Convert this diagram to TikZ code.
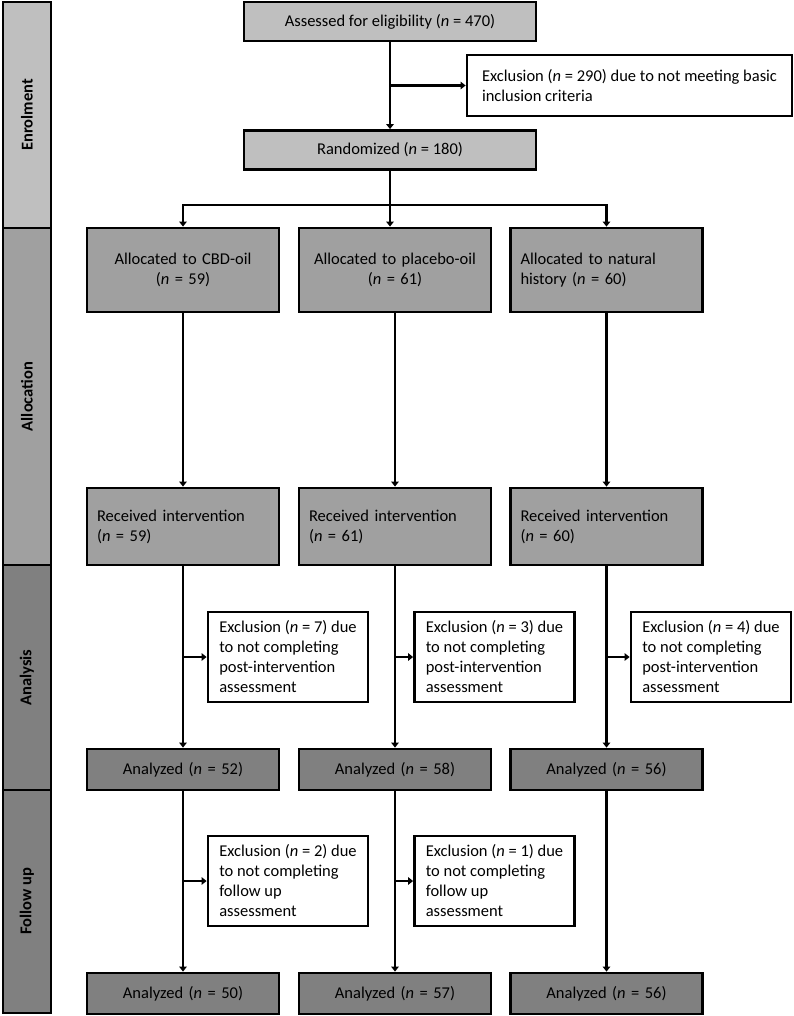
\documentclass[tikz,border=0pt]{standalone}
\usepackage{fontspec}
\setmainfont{Carlito}
\usetikzlibrary{arrows.meta}
\definecolor{enrolgray}{HTML}{BFBFBF}
\definecolor{allocgray}{HTML}{A0A0A0}
\definecolor{anagray}{HTML}{808080}

\begin{document}
\begin{tikzpicture}[
    x=1pt, y=-1pt,
    every node/.style={draw, line width=2.8pt, inner sep=0pt, font=\fontsize{16.5}{20}\selectfont},
    phase/.style={rotate=90, minimum height=48pt, font=\fontsize{16.5}{20}\selectfont\bfseries},
    topbox/.style={fill=enrolgray, minimum width=292pt, minimum height=39pt},
    stage/.style={minimum width=192pt, text width=172pt, align=center},
    exbox/.style={fill=white, minimum width=160pt, minimum height=90pt, align=left},
    flow/.style={draw, line width=2.5pt, -{Triangle[length=5pt,width=7.5pt]}}
  ]
    \useasboundingbox (0,0) rectangle (793,1016);
    % phases
    \node[phase, fill=enrolgray, minimum width=226pt] (enrol) at (27,115) {Enrolment};
    \node[phase, fill=allocgray, minimum width=337pt] (alloc) at (27,396.5) {Allocation};
    \node[phase, fill=anagray, minimum width=225pt] (anal) at (27,677.5) {Analysis};
    \node[phase, fill=anagray, minimum width=223pt] (follow) at (27,901.5) {Follow up};
    % enrolment
    \node[topbox] (assess) at (390,21.5) {Assessed for eligibility (\textit{n} = 470)};
    \node[exbox, minimum width=325pt, minimum height=61pt] (exE) at (629.5,85.5)
      {Exclusion (\textit{n} = 290) due to not meeting basic\\inclusion criteria};
    \node[topbox] (rand) at (390,150) {Randomized (\textit{n} = 180)};
    % allocation
    \node[stage, fill=allocgray, minimum height=84pt] (allocA) at (183,270) {Allocated to CBD-oil\\(\textit{n} = 59)};
    \node[stage, fill=allocgray, minimum height=84pt] (allocB) at (395,270) {Allocated to placebo-oil\\(\textit{n} = 61)};
    \node[stage, fill=allocgray, minimum height=84pt, align=left] (allocC) at (606.5,270) {Allocated to natural\\history (\textit{n} = 60)};
    \node[stage, fill=allocgray, minimum height=77pt, align=left] (recvA) at (183,526.5) {Received intervention\\(\textit{n} = 59)};
    \node[stage, fill=allocgray, minimum height=77pt, align=left] (recvB) at (395,526.5) {Received intervention\\(\textit{n} = 61)};
    \node[stage, fill=allocgray, minimum height=77pt, align=left] (recvC) at (606.5,526.5) {Received intervention\\(\textit{n} = 60)};
    % analysis
    \node[exbox] (exA1) at (288,657) {Exclusion (\textit{n} = 7) due\\to not completing\\post-intervention\\assessment};
    \node[exbox] (exB1) at (494.5,657) {Exclusion (\textit{n} = 3) due\\to not completing\\post-intervention\\assessment};
    \node[exbox] (exC1) at (711,657) {Exclusion (\textit{n} = 4) due\\to not completing\\post-intervention\\assessment};
    \node[stage, fill=anagray, minimum height=41pt] (anaA) at (183,769.5) {Analyzed (\textit{n} = 52)};
    \node[stage, fill=anagray, minimum height=41pt] (anaB) at (395,769.5) {Analyzed (\textit{n} = 58)};
    \node[stage, fill=anagray, minimum height=41pt] (anaC) at (606.5,769.5) {Analyzed (\textit{n} = 56)};
    % follow up
    \node[exbox] (exA2) at (288,881) {Exclusion (\textit{n} = 2) due\\to not completing\\follow up\\assessment};
    \node[exbox] (exB2) at (494.5,881) {Exclusion (\textit{n} = 1) due\\to not completing\\follow up\\assessment};
    \node[stage, fill=anagray, minimum height=41pt] (finA) at (183,993.5) {Analyzed (\textit{n} = 50)};
    \node[stage, fill=anagray, minimum height=41pt] (finB) at (395,993.5) {Analyzed (\textit{n} = 57)};
    \node[stage, fill=anagray, minimum height=41pt] (finC) at (606.5,993.5) {Analyzed (\textit{n} = 56)};
    % connectors
    \coordinate (split) at (390,205);
    \draw[flow] (assess) -- (rand);
    \draw[flow] (exE.west -| assess) -- (exE);
    \draw[flow] (rand.south) -- (rand.south |- allocB.north);
    \draw[flow] (split) -| (allocA);
    \draw[flow] (split) -| (allocC);
    \draw[flow] (allocA) -- (recvA);
    \draw[flow] (allocB) -- (recvB);
    \draw[flow] (allocC) -- (recvC);
    \draw[flow] (recvA) -- (anaA);
    \draw[flow] (recvB) -- (anaB);
    \draw[flow] (recvC) -- (anaC);
    \draw[flow] (exA1.west -| recvA) -- (exA1);
    \draw[flow] (exB1.west -| recvB) -- (exB1);
    \draw[flow] (exC1.west -| recvC) -- (exC1);
    \draw[flow] (anaA) -- (finA);
    \draw[flow] (anaB) -- (finB);
    \draw[flow] (anaC) -- (finC);
    \draw[flow] (exA2.west -| anaA) -- (exA2);
    \draw[flow] (exB2.west -| anaB) -- (exB2);
  \end{tikzpicture}
\end{document}
